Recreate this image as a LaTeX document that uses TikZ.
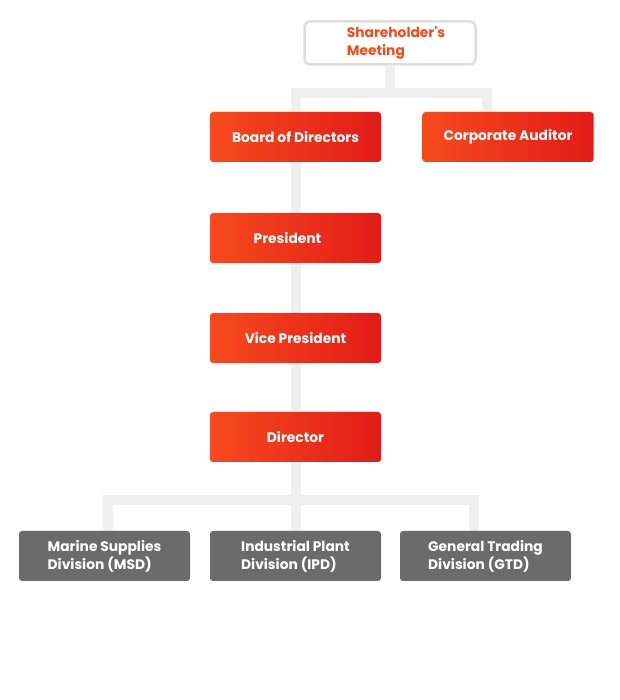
\documentclass[tikz,border=0pt]{standalone}
\usepackage{fontspec}
\setmainfont{Poppins}
\usetikzlibrary{backgrounds}
\definecolor{orgA}{HTML}{F64A1D}
\definecolor{orgB}{HTML}{E21B17}
\definecolor{divgray}{HTML}{6B6B6B}
\definecolor{linkgray}{HTML}{EFEFEF}
\definecolor{boxline}{HTML}{DEDEDE}
\begin{document}
\begin{tikzpicture}[x=1pt,y=1pt]
	\tikzset{post/.style={rounded corners=3pt,left color=orgA,right color=orgB,text=white,
		font=\bfseries\fontsize{13.8}{18}\selectfont,minimum width=171pt,minimum height=50pt}}
	\tikzset{division/.style={rounded corners=3pt,fill=divgray,text=white,align=left,
		font=\bfseries\fontsize{13.8}{18}\selectfont,minimum width=171pt,minimum height=50pt}}
	\tikzset{link/.style={draw=linkgray,line width=10pt}}
	\useasboundingbox (0,0) rectangle (619,700);

	\node[draw=boxline,line width=2.5pt,rounded corners=5pt,fill=white,text=orgA,align=left,
		font=\bfseries\fontsize{13.8}{18}\selectfont,minimum width=171pt,minimum height=43pt]
		(share) at (390,657) {\hspace*{12pt}Shareholder\textquotesingle s\\\hspace*{12pt}Meeting};

	\node[post] (board) at (295.5,563) {Board of Directors};
	\node[post] (audit) at (508,563) {Corporate Auditor};
	\node[post] (pres) at (295.5,462) {President\hspace*{16pt}};
	\node[post] (vp) at (295.5,362) {Vice President};
	\node[post] (dir) at (295.5,263) {Director};

	\node[division] (msd) at (104.5,144) {Marine Supplies\\Division (MSD)};
	\node[division] (ipd) at (295.5,144) {Industrial Plant\\Division (IPD)};
	\node[division] (gtd) at (485.5,144) {General Trading\\Division (GTD)};

	\coordinate (top) at (390,607);
	\coordinate (a1) at (487,607);
	\coordinate (b1) at (108,200);
	\coordinate (b3) at (474,200);

	\begin{pgfonlayer}{background}
		\draw[link] (share.south) -- (top);
		\draw[link] (board.north) |- (a1) -- (audit.north -| a1);
		\draw[link] (board.south) -- (ipd.north);
		\draw[link] (b1 |- msd.north) -- (b1) -- (b3) -- (b3 |- gtd.north);
	\end{pgfonlayer}
\end{tikzpicture}
\end{document}
